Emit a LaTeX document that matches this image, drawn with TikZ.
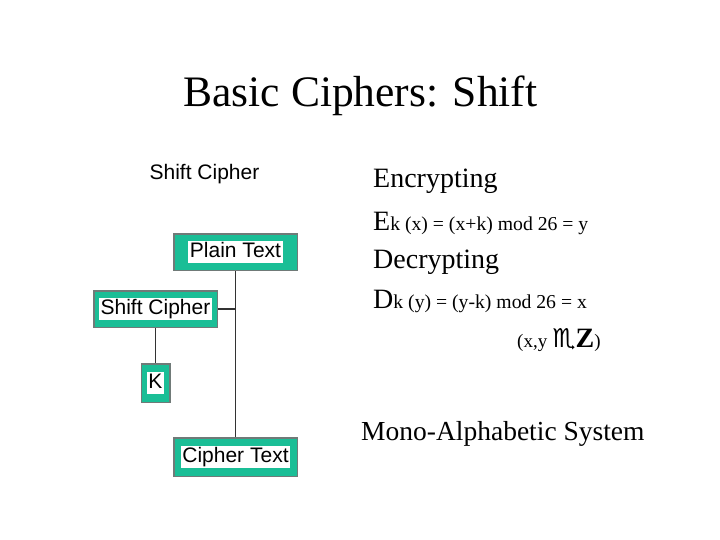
\documentclass[tikz,border=0pt]{standalone}
\usepackage{fontspec}
\setmainfont{Liberation Serif}
\setsansfont{Liberation Sans}
\newfontfamily\signfont{DejaVu Sans}
\usetikzlibrary{positioning}

\definecolor{boxgreen}{RGB}{26,190,150}
\definecolor{boxedge}{RGB}{112,122,120}
\newcommand{\px}[1]{\fontsize{#1}{#1}\selectfont}
\newcommand{\boxtext}[1]{{\setlength{\fboxsep}{1.5pt}\colorbox{white}{\vphantom{Pp}#1}}}

\tikzset{
	cbox/.style = {draw = boxedge, line width = 1.5pt, fill = boxgreen, inner sep = 0pt,
		minimum width = 123.5pt, minimum height = 36.5pt, font = \sffamily\px{21}},
	txt/.style = {anchor = base west, inner sep = 0pt, font = \px{28}},
	line/.style = {draw, line width = 1.2pt, color = black!80}
}

\begin{document}
\begin{tikzpicture}[x = 1pt, y = -1pt, node distance = 35pt]
	\useasboundingbox (0,0) rectangle (720,540);
	
	\node [anchor = base, font = \px{43.5}] (title) at (360.5,107) {Basic Ciphers: Shift};
	\node [anchor = base, font = \sffamily\px{21}] (head) at (204.5,180) {Shift Cipher};
	
	% chart
	\node [cbox] (plain) at (235.5,252) {\boxtext{Plain Text}};
	\node [cbox] (shift) at (155.5,309) {\boxtext{Shift Cipher}};
	\node [cbox, minimum width = 28.5pt, minimum height = 38.5pt, below = of shift] (key) {\boxtext{K}};
	\node [cbox, minimum height = 38.5pt] (cipher) at (235.5,457) {\boxtext{Cipher Text}};
	
	\path [line] (plain) -- (cipher);
	\path [line] (shift.east) -- (shift.east -| plain.south);
	\path [line] (shift) -- (key);
	
	% formulas
	\node [txt] (enc) at (373,188) {Encrypting};
	\node [txt] (encf) at (373,230) {E{\px{19.7}k (x) = (x+k) mod 26 = y}};
	\node [txt] (dec) at (373,268) {Decrypting};
	\node [txt] (decf) at (373,308) {D{\px{19.7}k (y) = (y-k) mod 26 = x}};
	\node [txt] (dom) at (517,347) {\px{19}(x,y\hspace{5pt}{\signfont\px{26}♏}{\bfseries\px{28}Z})};
	\node [txt, font = \px{27.5}] (mono) at (361,440) {Mono-Alphabetic System};
\end{tikzpicture}
\end{document}
